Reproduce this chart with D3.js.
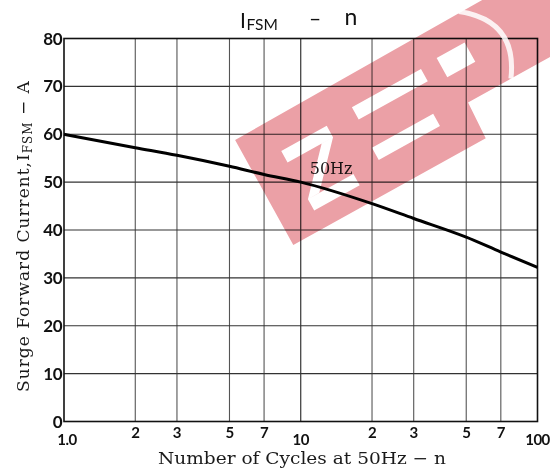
<!DOCTYPE html>
<html>
<head>
<meta charset="utf-8">
<script src="https://cdn.jsdelivr.net/npm/d3@7"></script>
<style>
  body { margin: 0; background: #fff; }
  .tick_lbl { font-family: Lato, "Open Sans", sans-serif; font-weight: 700; fill: #111; }
  .serif { font-family: "DejaVu Serif", "Liberation Serif", serif; fill: #1a1a1a; }
  .ttl { font-family: Lato, "Open Sans", sans-serif; fill: #111; }
</style>
</head>
<body>
<div id="chart"></div>
<script>
// curve (n = cycles, current in A)
var cycles  = [1, 2, 3, 5, 7, 10, 20, 30, 50, 70, 100];
var current = [60, 57.2, 55.6, 53.3, 51.6, 50, 45.5, 42.4, 38.5, 35.4, 32.2];

var xGrid = [2, 3, 5, 7, 10, 20, 30, 50, 70];
var xTickLabels = [
    {v: 1, t: "1.0", major: true}, {v: 2, t: "2"}, {v: 3, t: "3"}, {v: 5, t: "5"}, {v: 7, t: "7"},
    {v: 10, t: "10", major: true}, {v: 20, t: "2"}, {v: 30, t: "3"}, {v: 50, t: "5"}, {v: 70, t: "7"},
    {v: 100, t: "100", major: true}
];
var yTicks = [0, 10, 20, 30, 40, 50, 60, 70, 80];

var width = 550, height = 471;
var margin = {top: 38.5, right: 12.5, bottom: 49.5, left: 64};
var w = width - margin.left - margin.right;
var h = height - margin.top - margin.bottom;

var svg = d3.select("#chart").append("svg")
    .attr("width", width)
    .attr("height", height);

var g = svg.append("g").attr("transform", `translate(${margin.left},${margin.top})`);

var x = d3.scaleLog().domain([1, 100]).range([0, w]);
var y = d3.scaleLinear().domain([0, 80]).range([h, 0]);

// grid
g.selectAll(".vgrid").data(xGrid).join("line")
    .attr("x1", d => x(d)).attr("x2", d => x(d))
    .attr("y1", 0).attr("y2", h)
    .attr("stroke", d => (d == 10) ? "#222" : "#555")
    .attr("stroke-width", 1.1);
g.selectAll(".hgrid").data(yTicks.slice(1, -1)).join("line")
    .attr("x1", 0).attr("x2", w)
    .attr("y1", d => y(d)).attr("y2", d => y(d))
    .attr("stroke", "#333")
    .attr("stroke-width", 1.1);

// frame
g.append("rect")
    .attr("width", w).attr("height", h)
    .attr("fill", "none")
    .attr("stroke", "#111")
    .attr("stroke-width", 1.6);

// curve
var pts = cycles.map((c, i) => [c, current[i]]);
g.append("path")
    .datum(pts)
    .attr("fill", "none")
    .attr("stroke", "#000")
    .attr("stroke-width", 3)
    .attr("d", d3.line().x(d => x(d[0])).y(d => y(d[1])).curve(d3.curveMonotoneX));

g.append("text").attr("class", "serif")
    .attr("x", x(10) + 9).attr("y", y(50) - 8)
    .attr("font-size", 16)
    .text("50Hz");

// y tick labels
g.selectAll(".ylbl").data(yTicks).join("text")
    .attr("class", "tick_lbl")
    .attr("x", -2).attr("y", d => y(d) + 6)
    .attr("text-anchor", "end")
    .attr("font-size", 17)
    .attr("letter-spacing", -0.5)
    .text(d => d);

// x tick labels
g.selectAll(".xlbl").data(xTickLabels).join("text")
    .attr("class", "tick_lbl")
    .attr("x", d => x(d.v) + (d.v == 1 ? 3 : 0))
    .attr("y", d => h + (d.major ? 23 : 16))
    .attr("text-anchor", "middle")
    .attr("font-size", 15)
    .attr("letter-spacing", -0.5)
    .text(d => d.t);

// titles
svg.append("text").attr("class", "serif")
    .attr("x", 302).attr("y", 464)
    .attr("text-anchor", "middle")
    .attr("font-size", 16.5)
    .attr("textLength", 288)
    .attr("lengthAdjust", "spacingAndGlyphs")
    .text("Number of Cycles at 50Hz \u2212 n");

var yt = svg.append("text").attr("class", "serif")
    .attr("transform", "translate(29,236) rotate(-90)")
    .attr("text-anchor", "middle")
    .attr("font-size", 17)
    .attr("letter-spacing", 1);
yt.append("tspan").text("Surge Forward Current,I");
yt.append("tspan").attr("font-size", 12).attr("dy", 3).text("FSM");
yt.append("tspan").attr("dy", -3).text(" \u2212 A");

svg.append("text").attr("class", "ttl").attr("x", 240).attr("y", 28).attr("font-size", 21).text("I");
svg.append("text").attr("class", "ttl").attr("x", 246.5).attr("y", 30).attr("font-size", 15.5).text("FSM");
svg.append("text").attr("class", "ttl").attr("x", 315).attr("y", 26).attr("text-anchor", "middle").attr("font-size", 21).text("\u2013");
svg.append("text").attr("class", "ttl").attr("x", 351).attr("y", 25).attr("text-anchor", "middle").attr("font-size", 23).text("n");

// watermark: red band with white letter strokes (local u along band, v up)
var bandOuter = [[0, 0], [220, 0], [222, 40], [420, 40], [420, 124], [0, 120]];
var bandHoles = [
    [[35, 75], [87, 75], [87, 88], [35, 88]],                       // Z top
    [[74, 75], [87, 75], [48, 33], [35, 33]],                       // Z diagonal
    [[35, 20], [87, 20], [87, 33], [35, 33]],                       // Z bottom
    [[118, 78], [197, 78], [197, 92], [118, 92]],                   // E upper
    [[116, 33], [186, 33], [186, 47], [116, 47]],                   // E lower
    [[216, 72], [248, 72], [248, 94], [216, 94]]                    // P hole
];
var ring = p => "M" + p.map(q => q[0] + "," + (-q[1])).join("L") + "Z";
var wm = svg.append("g").attr("transform", "translate(293.3,245) rotate(-29)");
wm.append("path")
    .attr("d", ring(bandOuter) + bandHoles.map(ring).join(""))
    .attr("fill-rule", "evenodd")
    .attr("fill", "#eba0a6")
    .style("mix-blend-mode", "multiply");
wm.append("path")
    .attr("d", "M258,-124 Q305,-88 271,-40")
    .attr("fill", "none")
    .attr("stroke", "#fff")
    .attr("stroke-opacity", 0.85)
    .attr("stroke-width", 5);
</script>
</body>
</html>
